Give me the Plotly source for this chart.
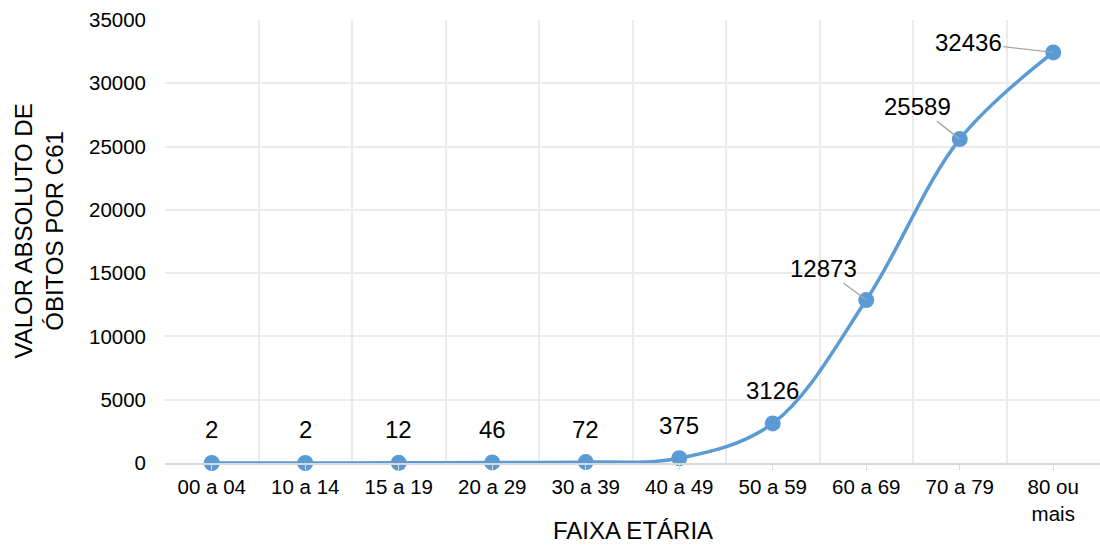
import plotly.graph_objects as go

# Faixas etárias e óbitos por C61
faixas = ["00 a 04", "10 a 14", "15 a 19", "20 a 29", "30 a 39",
          "40 a 49", "50 a 59", "60 a 69", "70 a 79", "80 ou<br>mais"]
obitos = [2, 2, 12, 46, 72, 375, 3126, 12873, 25589, 32436]
y_ticks = [0, 5000, 10000, 15000, 20000, 25000, 30000, 35000]

# rótulos com linha de chamada: (índice, deslocamento x, deslocamento y)
chamadas = {7: (-43, -32), 8: (-42, -33), 9: (-85, -10)}

azul = "#5B9BD5"
fonte = "Liberation Sans, Arial, sans-serif"
pos = list(range(len(faixas)))

fig = go.Figure()
fig.add_trace(go.Scatter(
    x=pos, y=obitos, mode="lines+markers",
    line=dict(color=azul, width=3.5, shape="spline", smoothing=1),
    marker=dict(color=azul, size=16),
    cliponaxis=False, hoverinfo="x+y",
))

for i, v in enumerate(obitos):
    if i in chamadas:
        ax, ay = chamadas[i]
        fig.add_annotation(
            x=pos[i], y=v, text=str(v), showarrow=True,
            arrowhead=0, arrowwidth=1.3, arrowcolor="#A6A6A6",
            ax=ax, ay=ay, standoff=0,
            font=dict(family=fonte, size=24, color="#000000"),
        )
    else:
        fig.add_annotation(
            x=pos[i], y=v, text=str(v), showarrow=False, yshift=33,
            font=dict(family=fonte, size=24, color="#000000"),
        )

# títulos dos eixos
fig.add_annotation(
    text="FAIXA ETÁRIA", xref="paper", yref="paper", x=0.5, y=0,
    xanchor="center", yanchor="middle", yshift=-67, showarrow=False,
    borderpad=0,
    font=dict(family=fonte, size=24, color="#000000"),
)
fig.add_annotation(
    text="VALOR ABSOLUTO DE<br>ÓBITOS POR C61", xref="paper", yref="paper",
    x=0, y=0.5, xanchor="center", yanchor="middle", xshift=-127, yshift=10,
    textangle=-90, showarrow=False,
    font=dict(family=fonte, size=24, color="#000000"),
)

fig.update_layout(
    width=1100, height=545,
    margin=dict(l=165, r=0, t=20, b=82, autoexpand=False),
    paper_bgcolor="white", plot_bgcolor="white",
    showlegend=False,
    font=dict(family=fonte, size=20, color="#000000"),
    xaxis=dict(
        range=[-0.5, len(faixas) - 0.5],
        tickmode="array", tickvals=pos, ticktext=faixas,
        ticks="outside", ticklen=5, tickcolor="#D9D9D9", tickwidth=1,
        showgrid=False, zeroline=False,
        showline=True, linecolor="#D9D9D9", linewidth=1.5,
        minor=dict(tickmode="linear", tick0=-0.5, dtick=1,
                   showgrid=True, gridcolor="#EBEBEB", gridwidth=1.5),
        tickfont=dict(size=20.5),
        automargin=False,
        fixedrange=True,
    ),
    yaxis=dict(
        range=[0, 35000],
        tickmode="array", tickvals=y_ticks,
        ticktext=[str(t) for t in y_ticks],
        showgrid=True, gridcolor="#EBEBEB", gridwidth=1.5,
        zeroline=False, showline=False,
        ticklabelstandoff=18,
        tickfont=dict(size=20.5),
        automargin=False,
        fixedrange=True,
    ),
)

fig.write_html("out.html")
